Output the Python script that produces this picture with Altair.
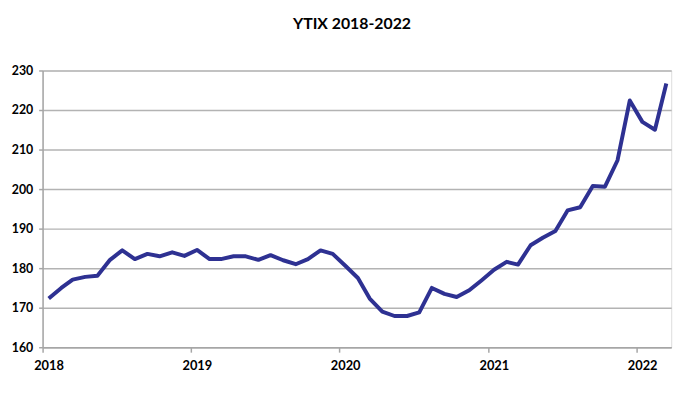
import altair as alt
import pandas as pd

years = [2018, 2019, 2020, 2021, 2022]
month_labels = [f"{y}-{m:02d}-16T00:00:00" for y in years for m in range(1, 13)][:51]

values = [
    172.3, 175.0, 177.1, 177.8, 178.1, 182.1, 184.5, 182.3, 183.6, 183.0, 184.0, 183.1,
    184.6, 182.3, 182.3, 183.0, 183.0, 182.1, 183.3, 182.0, 181.0, 182.3, 184.5, 183.6,
    180.6, 177.5, 172.3, 169.0, 167.9, 167.9, 168.8, 175.0, 173.5, 172.7, 174.4, 176.9,
    179.6, 181.6, 180.9, 185.8, 187.7, 189.4, 194.6, 195.4, 200.8, 200.6, 207.3, 222.4,
    217.0, 215.0, 226.7,
]
y_ticks = [160, 170, 180, 190, 200, 210, 220, 230]

df = pd.DataFrame({"date": month_labels, "value": values})

line = alt.Chart(df).mark_line(color="#2e3192", strokeWidth=4, strokeJoin="round").encode(
    x=alt.X(
        "date:T",
        title=None,
        scale=alt.Scale(domain=[alt.DateTime(year=2018, month=1, date=1),
                                alt.DateTime(year=2022, month=3, date=28)]),
        axis=alt.Axis(
            values=[alt.DateTime(year=y, month=1, date=1) for y in years],
            format="%Y",
            grid=False,
            domainColor="#a6a6a6",
            domainWidth=1.5,
            tickColor="#a6a6a6",
            tickWidth=1.5,
            tickSize=5,
            labelFont="Lato",
            labelFontWeight="bold",
            labelFontSize=13,
            labelColor="#000000",
            labelPadding=8,
            labelOffset=6,
            labelFlush=False,
        ),
    ),
    y=alt.Y(
        "value:Q",
        title=None,
        scale=alt.Scale(domain=[160, 230], nice=False, zero=False),
        axis=alt.Axis(
            values=y_ticks,
            grid=True,
            gridColor="#b3b3b3",
            gridWidth=1.5,
            domainColor="#a6a6a6",
            domainWidth=1.5,
            tickColor="#a6a6a6",
            tickWidth=1.5,
            tickSize=4,
            labelFont="Lato",
            labelFontWeight="bold",
            labelFontSize=12.5,
            labelColor="#000000",
            labelPadding=6,
            labelFlush=False,
        ),
    ),
)

chart = line.properties(
    width=636,
    height=280,
    autosize="none",
    padding={"left": 35, "top": 61, "right": 17, "bottom": 36},
    title=alt.TitleParams(
        "YTIX 2018-2022",
        font="Lato",
        fontWeight="bold",
        fontSize=16,
        color="#000000",
        anchor="middle",
        dx=-5,
        baseline="alphabetic",
        offset=20,
    ),
).configure_view(stroke=None).configure(background="#ffffff")

chart.save("out.html", embed_options={"renderer": "svg", "actions": False})
